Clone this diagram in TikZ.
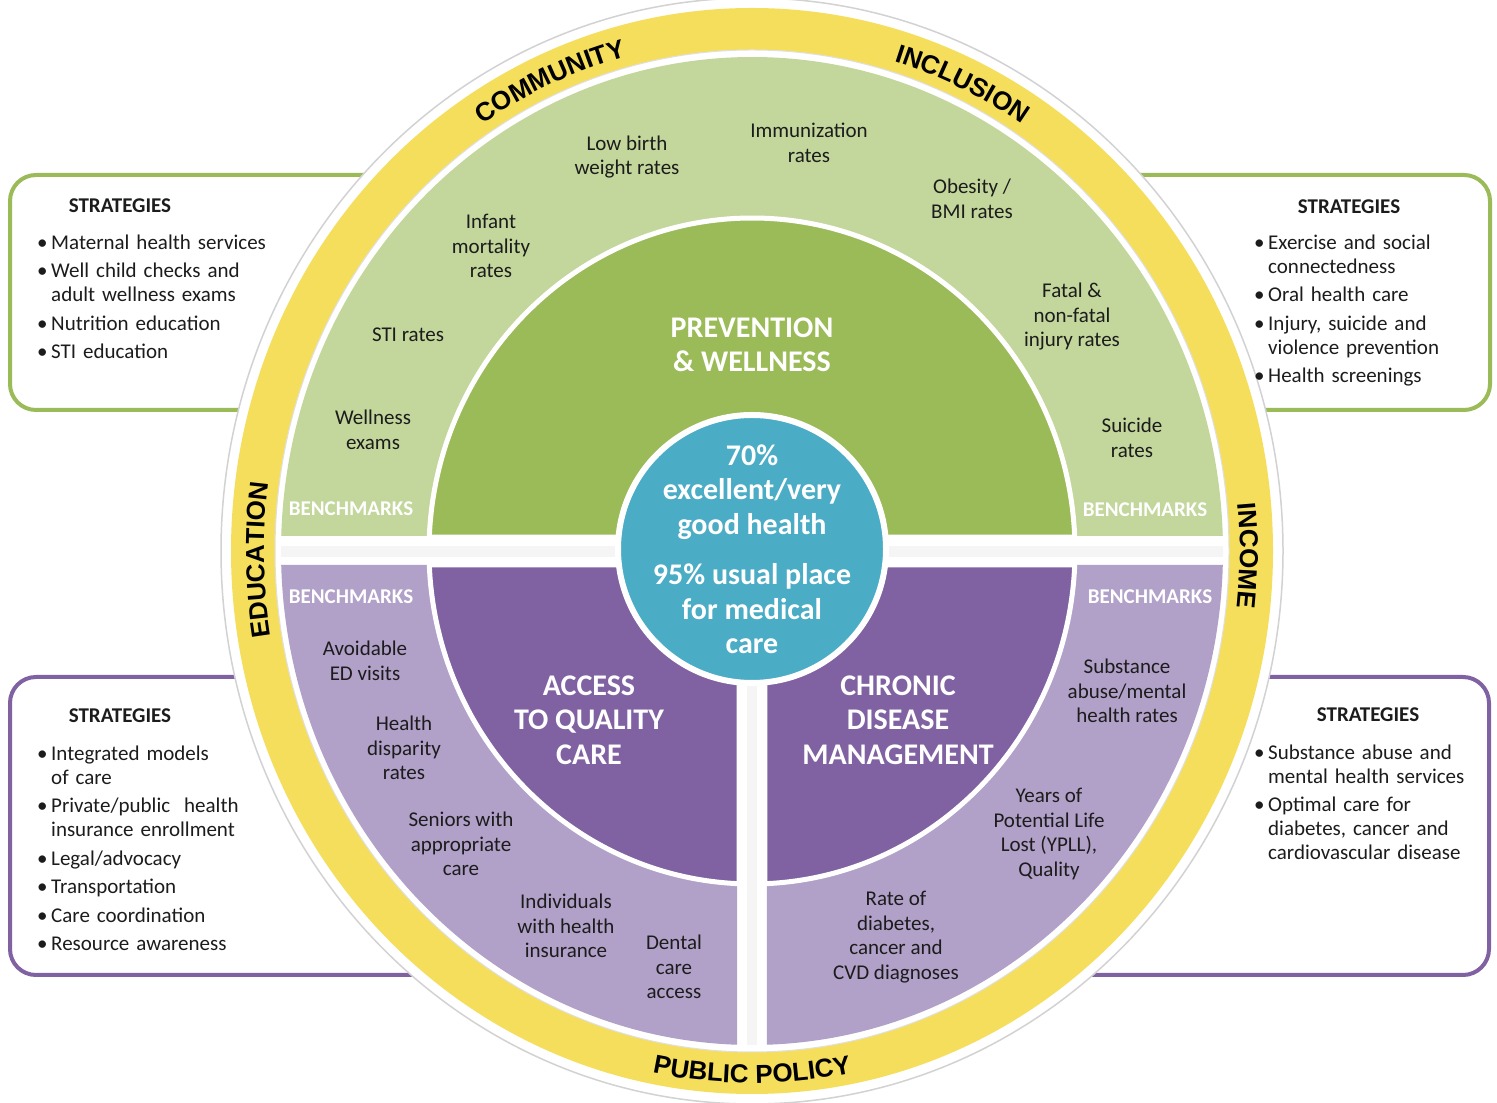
\documentclass[tikz,border=0pt]{standalone}
\usepackage{fontspec}
\setmainfont{Carlito}
\newfontfamily\ringfnt{Liberation Sans}
\usetikzlibrary{decorations.text}
\definecolor{ylw}{HTML}{F5DE5C}
\definecolor{lgreen}{HTML}{C3D69B}
\definecolor{dgreen}{HTML}{9BBB59}
\definecolor{lpurple}{HTML}{B1A0C8}
\definecolor{dpurple}{HTML}{8062A2}
\definecolor{aqua}{HTML}{4BACC6}
\definecolor{txt}{HTML}{1C1C1C}
\newcommand{\ringstyle}{\ringfnt\bfseries\fontsize{26}{26}\selectfont}
\newcommand{\itm}[1]{\noindent\hspace*{-14pt}\makebox[14pt][l]{\textbullet}#1\par}
\newcommand{\itemgap}{\vspace{4.5pt}}
\begin{document}
\begin{tikzpicture}[x=1pt,y=1pt,
  lbl/.style={text=txt, font=\fontsize{21}{24.5}\selectfont, align=center, inner sep=0pt},
  ttl/.style={text=white, font=\bfseries\fontsize{30}{34.5}\selectfont, align=center, inner sep=0pt},
  bmk/.style={text=white, font=\bfseries\fontsize{21}{21}\selectfont, inner sep=0pt},
  strat/.style={text=txt, font=\bfseries\fontsize{21}{21}\selectfont, inner sep=0pt},
  lst/.style={text=txt, font=\fontsize{21}{24}\selectfont, anchor=north west, inner sep=0pt, text width=330pt, align=left},
  gbox/.style={draw=dgreen, line width=4pt, rounded corners=26pt, fill=white},
  pbox/.style={draw=dpurple, line width=4pt, rounded corners=26pt, fill=white},
  ringtext/.style={decorate, decoration={text along path, text align=center, text={|\ringstyle|#1}}}
]
\useasboundingbox (0,0) rectangle (1497,1103);
\fill[white] (0,0) rectangle (1497,1103);
\coordinate (C) at (752,552);

% strategy boxes
\path[gbox] (10,693) rectangle (600,928);
\path[gbox] (900,693) rectangle (1490,928);
\path[pbox] (10,128) rectangle (600,426);
\path[pbox] (900,128) rectangle (1489,426);

% outer ring
\path[fill=white, draw=gray!35, line width=1.5pt] (C) ellipse[x radius=531pt, y radius=553pt];
\fill[ylw] (C) ellipse[x radius=521pt, y radius=543pt];
\path[fill=white, draw=gray!25, line width=1pt] (C) ellipse[x radius=477pt, y radius=501pt];

% faint band shadows
\begin{scope}
\clip (C) ellipse[x radius=471pt, y radius=494pt];
\fill[gray!8] (250,546) rectangle (1250,557);
\fill[gray!8] (747,40) rectangle (757,546);
\end{scope}

% light sectors
\fill[lgreen] ([shift={(1.74:471pt and 494pt)}]C) arc[start angle=1.74, end angle=178.26, x radius=471pt, y radius=494pt] -- cycle;
\fill[lpurple] ([shift={(181.62:471pt and 494pt)}]C) arc[start angle=181.62, end angle=268.18, x radius=471pt, y radius=494pt] -- (737,538) -- cycle;
\fill[lpurple] ([shift={(271.82:471pt and 494pt)}]C) arc[start angle=271.82, end angle=358.38, x radius=471pt, y radius=494pt] -- (767,538) -- cycle;

% dark sectors
\path[fill=dgreen, draw=white, line width=5pt] ([shift={(2.4:323pt and 333pt)}]C) arc[start angle=2.4, end angle=177.6, x radius=323pt, y radius=333pt] -- cycle;
\path[fill=dpurple, draw=white, line width=5pt] ([shift={(182.4:323pt and 333pt)}]C) arc[start angle=182.4, end angle=267.7, x radius=323pt, y radius=333pt] -- (739,538) -- cycle;
\path[fill=dpurple, draw=white, line width=5pt] ([shift={(272.3:323pt and 333pt)}]C) arc[start angle=272.3, end angle=357.6, x radius=323pt, y radius=333pt] -- (765,538) -- cycle;

% hub
\node[circle, fill=aqua, draw=white, line width=6pt, minimum size=268pt, inner sep=0pt] (hub) at (752,554) {};

% ring words
\path[ringtext=COMMUNITY] ([shift={(144:488pt and 512pt)}]C) arc[start angle=144, end angle=84, x radius=488pt, y radius=512pt];
\path[ringtext=INCLUSION] ([shift={(95:488pt and 512pt)}]C) arc[start angle=95, end angle=35, x radius=488pt, y radius=512pt];
\path[ringtext=INCOME] ([shift={(29.5:488pt and 512pt)}]C) arc[start angle=29.5, end angle=-30.5, x radius=488pt, y radius=512pt];
\path[ringtext=EDUCATION] ([shift={(211:488pt and 512pt)}]C) arc[start angle=211, end angle=151, x radius=488pt, y radius=512pt];
\path[ringtext=PUBLIC POLICY] ([shift={(240:510pt and 532pt)}]C) arc[start angle=240, end angle=300, x radius=510pt, y radius=532pt];

% section titles
\node[ttl] (prev) at (752,758) {PREVENTION\\\& WELLNESS};
\node[ttl] (access) at (589,383) {ACCESS\\TO QUALITY\\CARE};
\node[ttl] (chronic) at (898,383) {CHRONIC\\DISEASE\\MANAGEMENT};
\node[ttl] (hubtop) at (752,611) {70\%\\excellent/very\\good health};
\node[ttl] (hubbot) at (752,494) {95\% usual place\\for medical\\care};

% benchmark tags
\node[bmk] (bm1) at (351,594) {BENCHMARKS};
\node[bmk] (bm2) at (1145,593) {BENCHMARKS};
\node[bmk] (bm3) at (351,506) {BENCHMARKS};
\node[bmk] (bm4) at (1150,506) {BENCHMARKS};

% benchmarks: prevention
\node[lbl] (wellness) at (373,673) {Wellness\\exams};
\node[lbl] (sti) at (408,768) {STI rates};
\node[lbl] (infant) at (491,857) {Infant\\mortality\\rates};
\node[lbl] (lowbirth) at (627,946) {Low birth\\weight rates};
\node[lbl] (immun) at (809,960) {Immunization\\rates};
\node[lbl] (obesity) at (972,904) {Obesity /\\BMI rates};
\node[lbl] (fatal) at (1072,786) {Fatal \&\\non-fatal\\injury rates};
\node[lbl] (suicide) at (1132,665) {Suicide\\rates};

% benchmarks: access
\node[lbl] (avoid) at (365,442) {Avoidable\\ED visits};
\node[lbl] (disp) at (404,355) {Health\\disparity\\rates};
\node[lbl] (seniors) at (461,259) {Seniors with\\appropriate\\care};
\node[lbl] (indiv) at (566,177) {Individuals\\with health\\insurance};
\node[lbl] (dental) at (674,136) {Dental\\care\\access};

% benchmarks: chronic
\node[lbl] (subst) at (1127,412) {Substance\\abuse/mental\\health rates};
\node[lbl] (ypll) at (1049,269) {Years of\\Potential Life\\Lost (YPLL),\\Quality};
\node[lbl] (rate) at (896,166) {Rate of\\diabetes,\\cancer and\\CVD diagnoses};

% strategies
\node[strat] (s1h) at (120,897) {STRATEGIES};
\node[lst] (s1l) at (37,871) {\leftskip=14pt
\itm{\rule{0pt}{17pt}Maternal health services}\itemgap
\itm{Well child checks and\newline adult wellness exams}\itemgap
\itm{Nutrition education}\itemgap
\itm{STI education}};

\node[strat] (s2h) at (1349,896) {STRATEGIES};
\node[lst] (s2l) at (1254,871) {\leftskip=14pt
\itm{\rule{0pt}{17pt}Exercise and social\newline connectedness}\itemgap
\itm{Oral health care}\itemgap
\itm{Injury, suicide and\newline violence prevention}\itemgap
\itm{Health screenings}};

\node[strat] (s3h) at (120,387) {STRATEGIES};
\node[lst] (s3l) at (37,360) {\leftskip=14pt
\itm{\rule{0pt}{17pt}Integrated models\newline of care}\itemgap
\itm{Private/public\ \ health\newline insurance enrollment}\itemgap
\itm{Legal/advocacy}\itemgap
\itm{Transportation}\itemgap
\itm{Care coordination}\itemgap
\itm{Resource awareness}};

\node[strat] (s4h) at (1368,388) {STRATEGIES};
\node[lst] (s4l) at (1254,361) {\leftskip=14pt
\itm{\rule{0pt}{17pt}Substance abuse and\newline mental health services}\itemgap
\itm{Optimal care for\newline diabetes, cancer and\newline cardiovascular disease}};
\end{tikzpicture}
\end{document}
